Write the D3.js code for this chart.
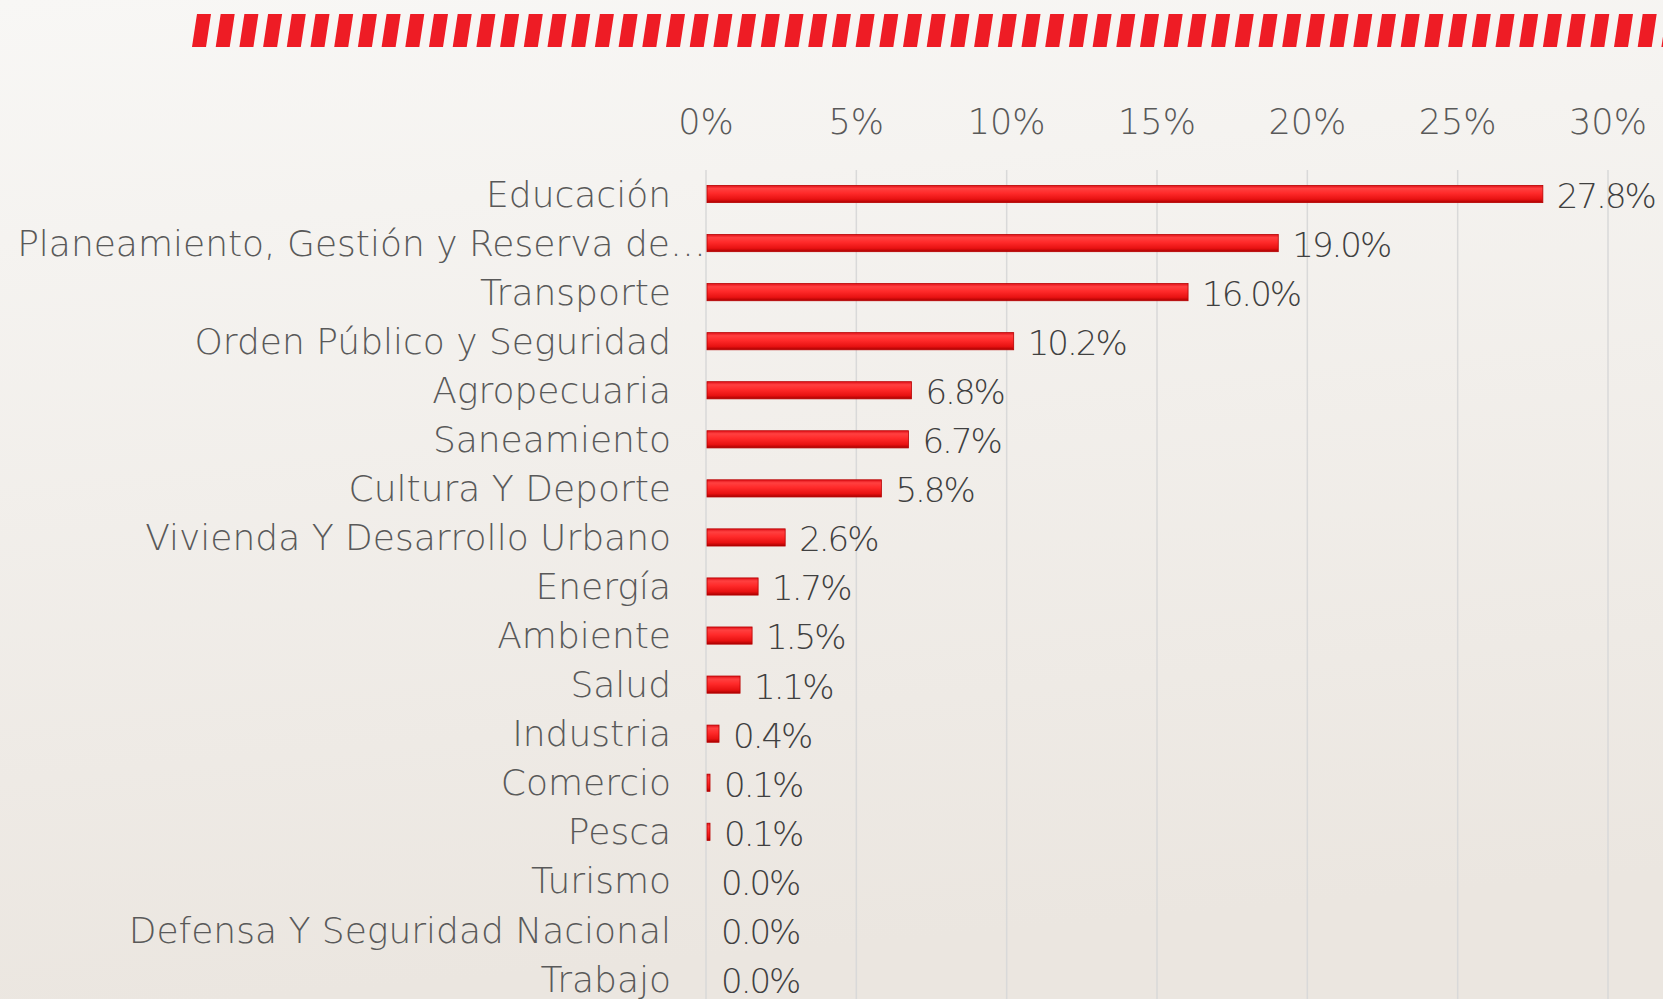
<!DOCTYPE html>
<html>
<head>
<meta charset="utf-8">
<script src="https://cdn.jsdelivr.net/npm/d3@7"></script>
<style>
  html, body { margin: 0; padding: 0; overflow: hidden; }
  body { width: 1663px; height: 999px; }
  text { font-family: "DejaVu Sans", sans-serif; }
</style>
</head>
<body>
<div id="chart"></div>
<script>
// datos del gráfico
const categorias = [
  "Educación",
  "Planeamiento, Gestión y Reserva de…",
  "Transporte",
  "Orden Público y Seguridad",
  "Agropecuaria",
  "Saneamiento",
  "Cultura Y Deporte",
  "Vivienda Y Desarrollo Urbano",
  "Energía",
  "Ambiente",
  "Salud",
  "Industria",
  "Comercio",
  "Pesca",
  "Turismo",
  "Defensa Y Seguridad Nacional",
  "Trabajo"
];
const porcentajes = [27.8, 19.0, 16.0, 10.2, 6.8, 6.7, 5.8, 2.6, 1.7, 1.5, 1.1, 0.4, 0.1, 0.1, 0.0, 0.0, 0.0];
const ticks = [0, 5, 10, 15, 20, 25, 30];

const W = 1663, H = 999;

const svg = d3.select("#chart").append("svg")
  .attr("width", W)
  .attr("height", H);

const defs = svg.append("defs");

// fondo
const bg = defs.append("linearGradient").attr("id", "bg")
  .attr("x1", 0).attr("y1", 0).attr("x2", 0.15).attr("y2", 1);
bg.append("stop").attr("offset", "0%").attr("stop-color", "#f8f7f5");
bg.append("stop").attr("offset", "100%").attr("stop-color", "#ebe6e0");

// barra con efecto bisel
const bar = defs.append("linearGradient").attr("id", "barGrad")
  .attr("x1", 0).attr("y1", 0).attr("x2", 0).attr("y2", 1);
bar.append("stop").attr("offset", "0%").attr("stop-color", "#e01018");
bar.append("stop").attr("offset", "18%").attr("stop-color", "#ff4040");
bar.append("stop").attr("offset", "45%").attr("stop-color", "#ff2a2a");
bar.append("stop").attr("offset", "80%").attr("stop-color", "#e81212");
bar.append("stop").attr("offset", "100%").attr("stop-color", "#a80000");

svg.append("rect").attr("width", W).attr("height", H).attr("fill", "url(#bg)");

// franja roja superior
const stripe = svg.append("g");
const stripeW = 14, stripeGap = 23.7, stripeTop = 14, stripeBot = 47, skew = 5;
for (let x = 192; x < W + 20; x += stripeGap) {
  stripe.append("path")
    .attr("d", `M${x + skew},${stripeTop} L${x + skew + stripeW},${stripeTop} L${x + stripeW},${stripeBot} L${x},${stripeBot} Z`)
    .attr("fill", "#ee1c25");
}

// escalas
const x = d3.scaleLinear().domain([0, 30]).range([706, 1608]);
const y = d3.scaleBand().domain(categorias).range([169.5, 1003.5]).paddingInner(0.65).paddingOuter(0.325);

// grid vertical
svg.append("g").selectAll("line")
  .data(ticks)
  .enter().append("line")
  .attr("x1", d => x(d)).attr("x2", d => x(d))
  .attr("y1", 170).attr("y2", H)
  .attr("stroke", "#d9d9d9")
  .attr("stroke-width", 1.5);

// etiquetas del eje superior
svg.append("g").selectAll("text")
  .data(ticks)
  .enter().append("text")
  .attr("x", d => x(d))
  .attr("y", 122)
  .attr("dy", "0.35em")
  .attr("text-anchor", "middle")
  .attr("font-size", 35)
  .attr("font-weight", 200)
  .attr("fill", "#595959")
  .text(d => d + "%");

// barras
svg.append("g").selectAll("rect")
  .data(porcentajes)
  .enter().append("rect")
  .attr("x", x(0) + 1)
  .attr("y", (d, i) => y(categorias[i]))
  .attr("width", d => Math.max(0, x(d) - x(0)))
  .attr("height", y.bandwidth())
  .attr("fill", "url(#barGrad)")
  .attr("stroke", "#b80000")
  .attr("stroke-width", d => d > 0 ? 0.8 : 0);

// etiquetas de categoría
svg.append("g").selectAll("text")
  .data(categorias)
  .enter().append("text")
  .attr("x", d => d.endsWith("…") ? 706 : 671)
  .attr("y", d => y(d) + y.bandwidth() / 2)
  .attr("dy", "0.35em")
  .attr("text-anchor", "end")
  .attr("font-size", 36)
  .attr("font-weight", 200)
  .attr("fill", "#595959")
  .text(d => d);

// etiquetas de valor
svg.append("g").selectAll("text")
  .data(porcentajes)
  .enter().append("text")
  .attr("x", d => x(d) + 15)
  .attr("y", (d, i) => y(categorias[i]) + y.bandwidth() / 2 + 2)
  .attr("dy", "0.35em")
  .attr("font-size", 34)
  .attr("font-weight", 200)
  .attr("letter-spacing", -2)
  .attr("fill", "#404040")
  .text(d => d.toFixed(1) + "%");
</script>
</body>
</html>
